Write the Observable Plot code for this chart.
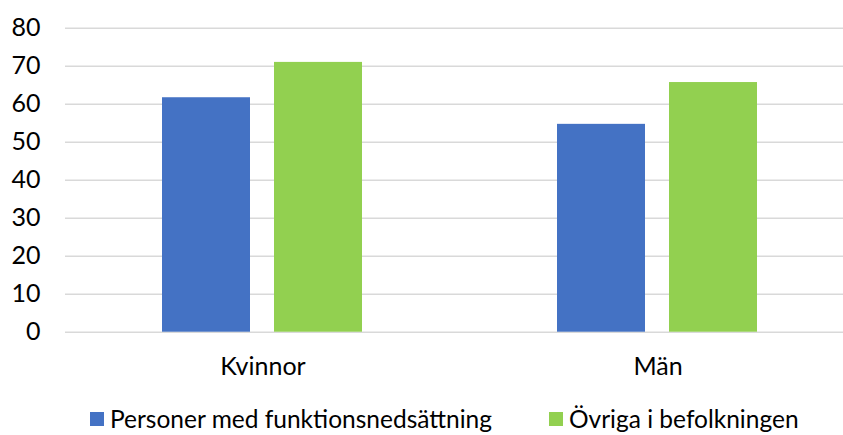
<!DOCTYPE html>
<html>
<head>
<meta charset="utf-8">
<script src="https://cdn.jsdelivr.net/npm/d3@7"></script>
<script src="https://cdn.jsdelivr.net/npm/@observablehq/plot@0.6"></script>
<style>
  html, body { margin: 0; padding: 0; background: #fff; overflow: hidden; width: 843px; height: 435px; }
  #wrap { position: relative; width: 843px; height: 435px; overflow: hidden; font-family: Lato, sans-serif; }
  #chart svg { display: block; }
  #legend { position: absolute; left: 0; top: 404px; width: 843px; height: 31px; font-size: 24.5px; color: #000; }
  .item { position: absolute; top: 0; display: flex; align-items: center; white-space: nowrap; }
  .sw { width: 14px; height: 14px; margin-right: 6px; }
</style>
</head>
<body>
<div id="wrap">
  <div id="chart"></div>
  <div id="legend"></div>
</div>
<script>
const groups = ["Kvinnor", "Män"];
const seriesNames = ["Personer med funktionsnedsättning", "Övriga i befolkningen"];
const seriesColors = ["#4472C4", "#92D050"];
const personerValues = [61.7, 54.7];
const ovrigaValues = [71.0, 65.7];
const yTicks = [0, 10, 20, 30, 40, 50, 60, 70, 80];

const rows = [];
groups.forEach((g, i) => {
  rows.push({group: g, series: seriesNames[0], value: personerValues[i]});
  rows.push({group: g, series: seriesNames[1], value: ovrigaValues[i]});
});

const chart = Plot.plot({
  width: 843,
  height: 390,
  marginLeft: 64,
  marginRight: -12,
  marginTop: 27.7,
  marginBottom: 58.3,
  style: {fontFamily: "Lato, sans-serif", fontSize: "25px", color: "#000", background: "#fff"},
  fx: {domain: groups, padding: 0},
  x: {domain: seriesNames, paddingInner: 0.213, paddingOuter: 0.864, axis: null},
  y: {domain: [0, 80], axis: null},
  color: {domain: seriesNames, range: seriesColors},
  marks: [
    Plot.gridY(yTicks, {stroke: "#d9d9d9", strokeOpacity: 1, strokeWidth: 1.5}),
    Plot.barY(rows, {fx: "group", x: "series", y: "value", fill: "series"}),
    Plot.axisY(yTicks, {tickSize: 0, tickPadding: 25, fontSize: 25, label: null, fill: "#000"}),
    Plot.axisFx({anchor: "bottom", tickSize: 0, tickPadding: 25, fontSize: 25, label: null, fill: "#000"})
  ]
});
document.getElementById("chart").appendChild(chart);

const legend = document.getElementById("legend");
const lefts = [90, 549];
seriesNames.forEach((name, i) => {
  const item = document.createElement("div");
  item.className = "item";
  item.style.left = lefts[i] + "px";
  const sw = document.createElement("span");
  sw.className = "sw";
  sw.style.background = seriesColors[i];
  const t = document.createElement("span");
  t.textContent = name;
  item.appendChild(sw);
  item.appendChild(t);
  legend.appendChild(item);
});
</script>
</body>
</html>
